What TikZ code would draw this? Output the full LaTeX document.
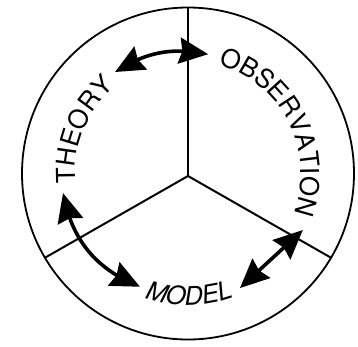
\documentclass[tikz,border=0pt]{standalone}
\usepackage{fontspec}
\setmainfont{TeX Gyre Heros}
\usetikzlibrary{decorations.text,arrows.meta,bending}
\newcommand\wordfont{\fontsize{26}{26}\selectfont}
\newcommand\modelfont{\fontsize{25.5}{25.5}\selectfont\itshape}
\begin{document}
\begin{tikzpicture}[x=1pt,y=1pt,
  rim/.style={line width=1.8pt},
  spoke/.style={line width=2pt},
  link/.style={line width=3.6pt,
    {Stealth[length=29pt,width=26pt,inset=3pt,flex]}-{Stealth[length=29pt,width=26pt,inset=3pt,flex]}},
  word/.style={decorate,decoration={text along path,text align=center,text={#1}}}
  ]
\useasboundingbox (-188,-172.5) rectangle (170,173.5);
\coordinate (c) at (0,0);
\coordinate (hub) at (0,-2.5);
\draw[rim] (c) circle[radius=166];
\coordinate (top) at (90:166);
\coordinate (ll) at (210.5:166);
\coordinate (lr) at (329.5:166);
\draw[spoke] (hub) -- (top);
\draw[spoke] (hub) -- (ll);
\draw[spoke] (hub) -- (lr);
% words
\path[word={|\wordfont|THEORY}] (200:113) arc[start angle=200,end angle=115,radius=113];
\path[word={|\wordfont|OBSERVATION}] (90:113) arc[start angle=90,end angle=-36,radius=113];
\path[word={|\modelfont|MODEL}] (240:132) arc[start angle=240,end angle=301,radius=132];
% arrows
\coordinate (t1) at (125.7:125);
\coordinate (o1) at (80.4:121);
\draw[link] (t1) to[bend left=22] (o1);
\coordinate (t2) at (188.9:126.5);
\coordinate (m2) at (247:123);
\draw[link] (t2) to[bend right=29] (m2);
\coordinate (m3) at (-65.6:125.8);
\coordinate (o3) at (-26.2:128);
\draw[link] (m3) -- (o3);
\end{tikzpicture}
\end{document}
